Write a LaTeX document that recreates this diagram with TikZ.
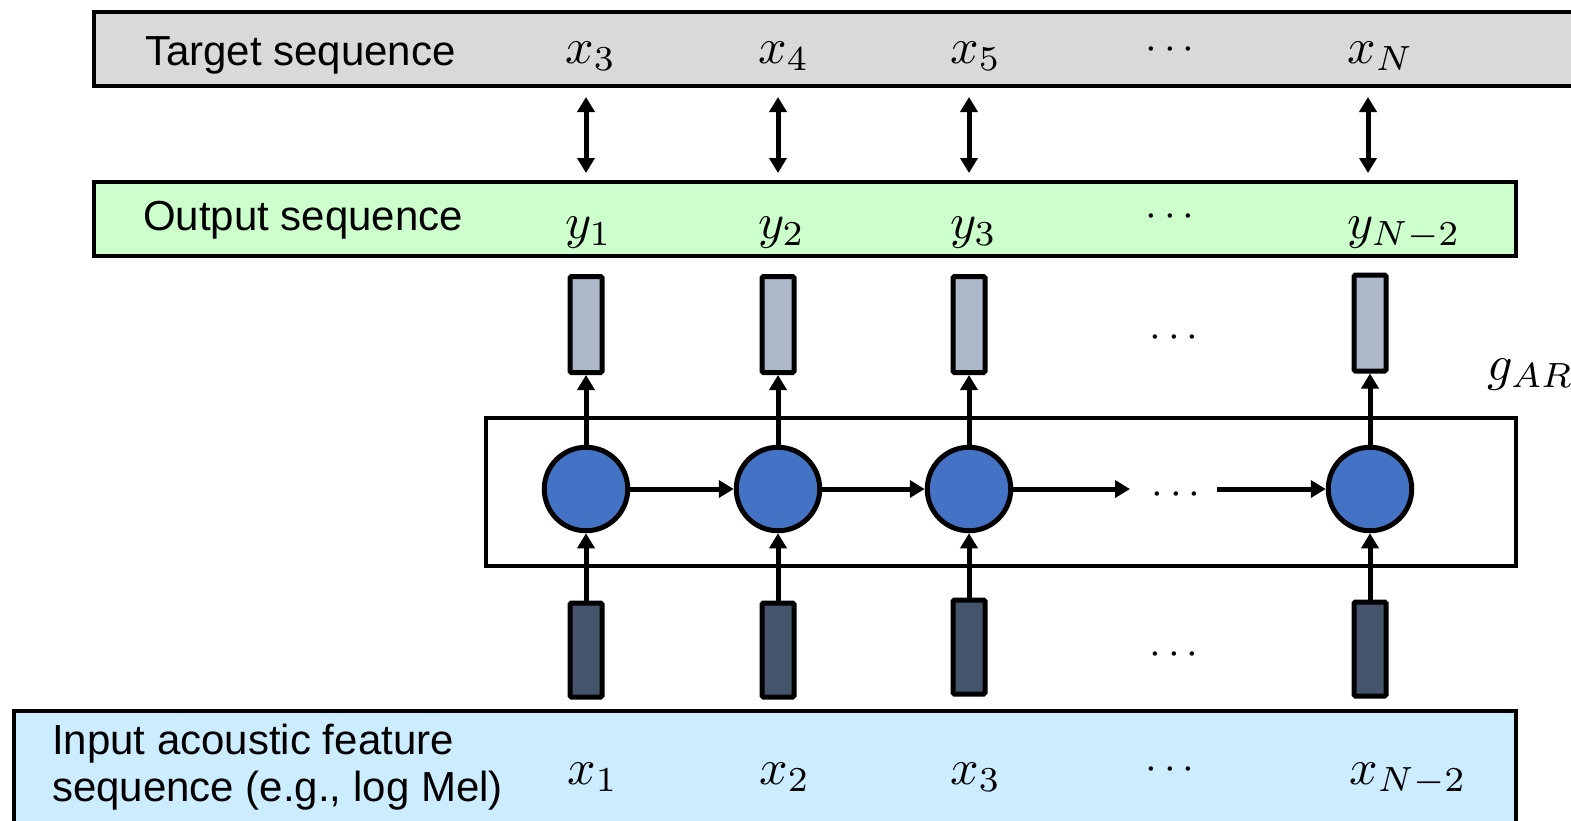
\documentclass[tikz,border=0pt]{standalone}
\usepackage{fontspec}
\setsansfont{Liberation Sans}
\usetikzlibrary{arrows.meta}
\definecolor{tgray}{HTML}{D9D9D9}
\definecolor{ogreen}{HTML}{CCFFCC}
\definecolor{iblue}{HTML}{CCECFF}
\definecolor{cellblue}{HTML}{4472C4}
\definecolor{lightv}{HTML}{ADB9CA}
\definecolor{darkv}{HTML}{44546A}
\newcommand{\mysym}[1]{\scalebox{5}{$#1$}}
\newcommand{\mydots}{\scalebox{4.2}{$\cdots$}}
\begin{document}
\begin{tikzpicture}[x=1pt,y=-1pt,
  bigbox/.style={draw, line width=4.8pt, inner sep=0pt},
  lab/.style={font=\fontsize{42}{47}\selectfont\sffamily, anchor=base west, inner sep=0pt},
  mlab/.style={font=\normalsize, anchor=base west, inner sep=0pt},
  dotlab/.style={font=\normalsize, inner sep=0pt},
  cell/.style={circle, draw, line width=5pt, fill=cellblue, minimum size=83.5pt, inner sep=0pt},
  outv/.style={draw, line width=5pt, fill=lightv, minimum width=32pt, minimum height=96pt, rounded corners=1.5pt, inner sep=0pt},
  inv/.style={draw, line width=5pt, fill=darkv, minimum width=32pt, minimum height=94pt, rounded corners=1.5pt, inner sep=0pt},
  arr/.style={line width=5pt, -{Triangle[length=15pt,width=17pt]}},
  darr/.style={line width=5pt, {Triangle[length=15pt,width=17pt]}-{Triangle[length=15pt,width=17pt]}}
]
\useasboundingbox (0,0) rectangle (1571,820);
\clip (0,0) rectangle (1571,820);

% big boxes
\node[bigbox, fill=tgray, minimum width=1526pt, minimum height=74pt] (target) at (857,49) {};
\node[bigbox, fill=ogreen, minimum width=1422pt, minimum height=74pt] (output) at (805,219) {};
\node[bigbox, line width=4.2pt, minimum width=1030pt, minimum height=148pt] (rnn) at (1001,492) {};
\node[bigbox, fill=iblue, minimum width=1502pt, minimum height=149pt] (input) at (765,785.5) {};

% row labels
\node[lab] (tlab) at (145,65) {Target sequence};
\node[lab] (olab) at (143,230) {Output sequence};
\node[lab, align=left] (ilab) at (52,801) {Input acoustic feature\\sequence (e.g., log Mel)};

% target symbols
\node[mlab] (x3t) at (565,63) {\mysym{x_3}};
\node[mlab] (x4t) at (758,63) {\mysym{x_4}};
\node[mlab] (x5t) at (950,63) {\mysym{x_5}};
\node[mlab] (xNt) at (1347,63) {\mysym{x_N}};
\node[dotlab] (dt) at (1170,50) {\mydots};

% output symbols
\node[mlab] (y1) at (565,238) {\mysym{y_1}};
\node[mlab] (y2) at (758,238) {\mysym{y_2}};
\node[mlab] (y3) at (950,238) {\mysym{y_3}};
\node[mlab] (yN) at (1347,238) {\mysym{y_{N-2}}};
\node[dotlab] (do) at (1170,217) {\mydots};

% input symbols
\node[mlab] (x1i) at (567,784) {\mysym{x_1}};
\node[mlab] (x2i) at (759,784) {\mysym{x_2}};
\node[mlab] (x3i) at (950,784) {\mysym{x_3}};
\node[mlab] (xNi) at (1349,784) {\mysym{x_{N-2}}};
\node[dotlab] (di) at (1170,770) {\mydots};

% g_AR
\node[mlab] (gar) at (1487,380) {\mysym{g_{AR}}};

% vectors
\node[outv] (h1) at (586,324.5) {};
\node[outv] (h2) at (778,324.5) {};
\node[outv] (h3) at (969,324.5) {};
\node[outv] (h4) at (1370,323) {};
\node[dotlab] (dh) at (1174,338) {\mydots};

\node[inv] (i1) at (586,650) {};
\node[inv] (i2) at (778,650) {};
\node[inv] (i3) at (969,647) {};
\node[inv] (i4) at (1370,649) {};
\node[dotlab] (dinv) at (1174,655) {\mydots};

% cells
\node[cell] (c1) at (586,489) {};
\node[cell] (c2) at (778,489) {};
\node[cell] (c3) at (969,489) {};
\node[cell] (c4) at (1370,489) {};
\node[dotlab] (dc) at (1176,495) {\mydots};

% double arrows target <-> output
\foreach \n/\x in {1/586,2/778,3/969,4/1368}{
  \coordinate (ta\n) at (\x,97);
  \coordinate (ob\n) at (\x,173);
  \draw[darr] (ta\n) -- (ob\n);
}

% vertical arrows
\foreach \n in {1,2,3,4}{
  \draw[arr] (c\n) -- (h\n);
  \draw[arr] (i\n) -- (c\n);
}

% recurrent arrows
\coordinate (e1) at (1130,489);
\coordinate (e2) at (1217,489);
\draw[arr] (c1) -- (c2);
\draw[arr] (c2) -- (c3);
\draw[arr] (c3) -- (e1);
\draw[arr] (e2) -- (c4);
\end{tikzpicture}
\end{document}
